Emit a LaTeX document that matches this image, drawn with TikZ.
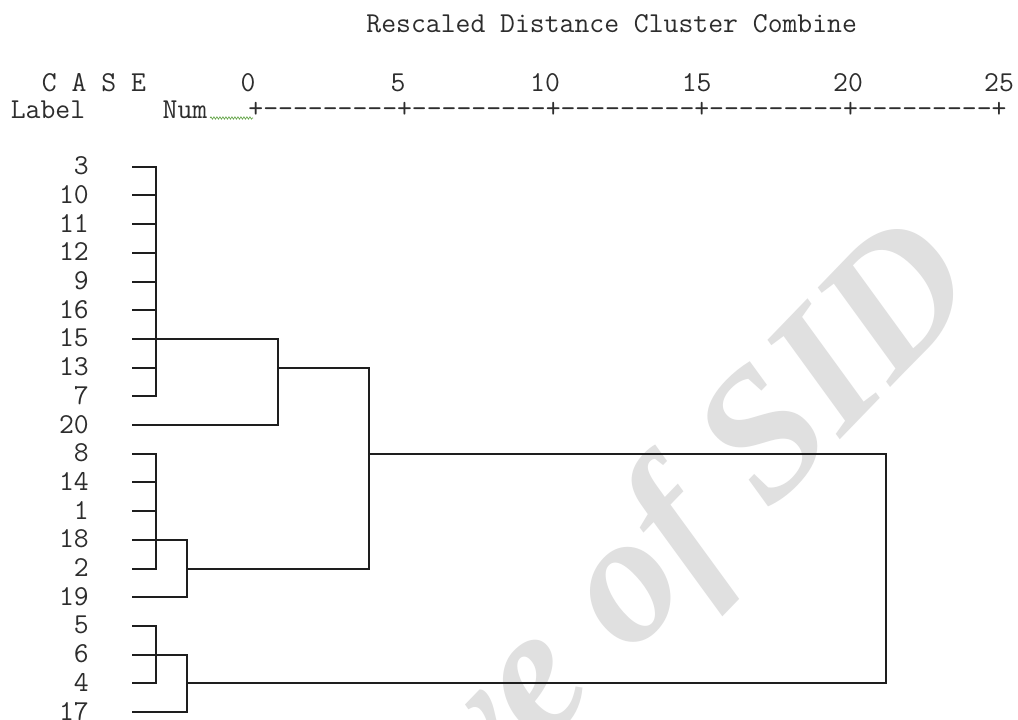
\documentclass[tikz,border=0pt]{standalone}
\usepackage{fontspec}
\newfontfamily\wmfont{Liberation Serif}
\usetikzlibrary{decorations.pathmorphing}
\definecolor{ink}{RGB}{30,30,30}
\definecolor{txtink}{RGB}{45,45,45}
\definecolor{wmgray}{RGB}{224,224,224}
\definecolor{squiggle}{RGB}{90,160,60}
\begin{document}
\begin{tikzpicture}[x=1pt,y=-1pt,
  txt/.style={font=\ttfamily\fontsize{28.86}{34}\selectfont, inner sep=0pt, text=txtink},
  lbl/.style={txt, anchor=base east},
  link/.style={line width=2pt, draw=ink, line cap=rect, line join=miter}]
\fill[white] (0,0) rectangle (1018,720);
\useasboundingbox (0,0) rectangle (1018,720);
% watermark
\begin{scope}
\clip (0,0) rectangle (1018,720);
\node[font=\wmfont\bfseries\itshape\fontsize{185}{185}\selectfont, text=wmgray,
      rotate=46, anchor=base east, inner sep=0pt] (wm) at (984,290) {Archive of SID};
\end{scope}
% header
\node[txt] (title) at (611.7,24) {Rescaled Distance Cluster Combine};
\node[txt] (case) at (94,83) {C A S E};
\node[txt] (t0) at (248,83) {0};
\node[txt] (t5) at (398,83) {5};
\node[txt] (t10) at (545,83) {10};
\node[txt] (t15) at (696.7,83) {15};
\node[txt] (t20) at (848,83) {20};
\node[txt] (t25) at (999,83) {25};
\node[txt] (label) at (48,110) {Label};
\node[txt] (num) at (185,110) {Num};
\node[txt] (axis) at (627.5,110) {+---------+---------+---------+---------+---------+};
\coordinate (sq1) at (210,118);
\coordinate (sq2) at (253,118);
\draw[squiggle, line width=0.6pt, decorate, decoration={snake, amplitude=1.2pt, segment length=3pt}] (sq1) -- (sq2);
% level x positions
\coordinate (X1) at (155.5,0);
\coordinate (X2) at (186.7,0);
\coordinate (X3) at (278.3,0);
\coordinate (X4) at (369.3,0);
\coordinate (X5) at (886,0);
% leaves
\foreach \lab [count=\j from 0] in {3,10,11,12,9,16,15,13,7,20,8,14,1,18,2,19,5,6,4,17} {
  \pgfmathsetmacro\yy{166.7+28.7*\j}
  \node[lbl] (r\j) at (89,\yy+8) {\lab};
  \coordinate (l\j) at (133,\yy);
}
% leaf stubs
\foreach \j in {0,1,2,3,4,5,7,8,10,11,12,14,16,18} \draw[link] (l\j) -- (l\j -| X1);
\draw[link] (l6) -- (l6 -| X3);
\draw[link] (l9) -- (l9 -| X3);
\draw[link] (l13) -- (l13 -| X2);
\draw[link] (l15) -- (l15 -| X2);
\draw[link] (l17) -- (l17 -| X2);
\draw[link] (l19) -- (l19 -| X2);
% verticals
\draw[link] (l0 -| X1) -- (l8 -| X1);
\draw[link] (l10 -| X1) -- (l14 -| X1);
\draw[link] (l16 -| X1) -- (l18 -| X1);
\draw[link] (l6 -| X3) -- (l9 -| X3);
\draw[link] (l13 -| X2) -- (l15 -| X2);
\draw[link] (l17 -| X2) -- (l19 -| X2);
% joins
\draw[link] (l7 -| X3) -- (l7 -| X4) -- (l14 -| X4) -- (l14 -| X2);
\draw[link] (l10 -| X4) -- (l10 -| X5) -- (l18 -| X5) -- (l18 -| X2);
\end{tikzpicture}
\end{document}
